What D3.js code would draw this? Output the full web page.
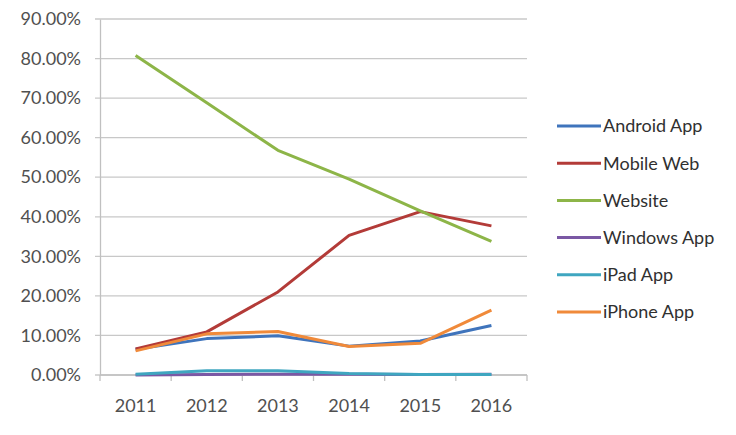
<!DOCTYPE html>
<html><head><meta charset="utf-8">
<script src="https://cdn.jsdelivr.net/npm/d3@7"></script>
<style>body{margin:0;background:#fff}svg{display:block}text{font-family:Lato,"Open Sans",sans-serif}</style>
</head><body><svg id="c" width="736" height="435"></svg>
<script>
const years = ["2011","2012","2013","2014","2015","2016"];
const seriesNames = ["Android App","Mobile Web","Website","Windows App","iPad App","iPhone App"];
const androidApp = [6.5, 9.2, 9.9, 7.3, 8.6, 12.5];
const mobileWeb  = [6.6, 10.9, 21.0, 35.3, 41.3, 37.7];
const website    = [80.8, 68.8, 56.8, 49.5, 41.5, 33.8];
const windowsApp = [0.0, 0.1, 0.2, 0.2, 0.1, 0.2];
const iPadApp    = [0.2, 1.1, 1.1, 0.4, 0.1, 0.1];
const iPhoneApp  = [6.1, 10.4, 11.0, 7.2, 8.0, 16.4];
const yTicks = [0,10,20,30,40,50,60,70,80,90];
const colors = ["#3F74BC","#B33B38","#8DB548","#7A58A4","#3FA6C0","#F08A3A"];
const allValues = [androidApp, mobileWeb, website, windowsApp, iPadApp, iPhoneApp];

const svg = d3.select("#c");
const L = 100, R = 527, T = 19, B = 375;
const x = d3.scaleBand().domain(years).range([L, R]);
const y = d3.scaleLinear().domain([0, 90]).range([B, T]);

// gridlines
svg.append("g").selectAll("line").data(yTicks).join("line")
  .attr("x1", L - 5).attr("x2", R).attr("y1", d => y(d)).attr("y2", d => y(d))
  .attr("stroke", "#c8c8c8").attr("stroke-width", 1.3);

// y axis
const ya = svg.append("g").attr("transform", `translate(${L},0)`)
  .call(d3.axisLeft(y).tickValues(yTicks).tickSize(0).tickPadding(19).tickFormat(d => d.toFixed(2) + "%"));
ya.select(".domain").attr("stroke", "#c0c0c0").attr("stroke-width", 1.3);
ya.selectAll("text").attr("fill", "#505050").style("font-size", "18px");

// x axis
const xa = svg.append("g").attr("transform", `translate(0,${B})`)
  .call(d3.axisBottom(x).tickSize(0).tickPadding(24));
xa.select(".domain").remove();
xa.selectAll("text").attr("fill", "#505050").style("font-size", "18px");
svg.append("line").attr("x1", L).attr("x2", R).attr("y1", B).attr("y2", B)
  .attr("stroke", "#c0c0c0").attr("stroke-width", 1.3);
const bounds = years.map(d => x(d)).concat([R]);
svg.append("g").selectAll("line").data(bounds).join("line")
  .attr("x1", d => d).attr("x2", d => d).attr("y1", B).attr("y2", B + 6)
  .attr("stroke", "#c0c0c0").attr("stroke-width", 1.3);

// lines
const line = d3.line().x((d, i) => x(years[i]) + x.bandwidth() / 2).y(d => y(d));
svg.append("g").selectAll("path").data(allValues).join("path")
  .attr("d", d => line(d)).attr("fill", "none")
  .attr("stroke", (d, i) => colors[i]).attr("stroke-width", 3)
  .attr("stroke-linejoin", "round");

// legend
const lg = svg.append("g").attr("transform", "translate(557,126)");
const rows = lg.selectAll("g").data(seriesNames).join("g")
  .attr("transform", (d, i) => `translate(0,${i * 37.2})`);
rows.append("line").attr("x1", 0).attr("x2", 44).attr("y1", 0).attr("y2", 0)
  .attr("stroke", (d, i) => colors[i]).attr("stroke-width", 3);
rows.append("text").attr("x", 46).attr("y", 0).attr("dy", "0.35em")
  .attr("fill", "#303030").style("font-size", "18px").text(d => d);
</script></body></html>
